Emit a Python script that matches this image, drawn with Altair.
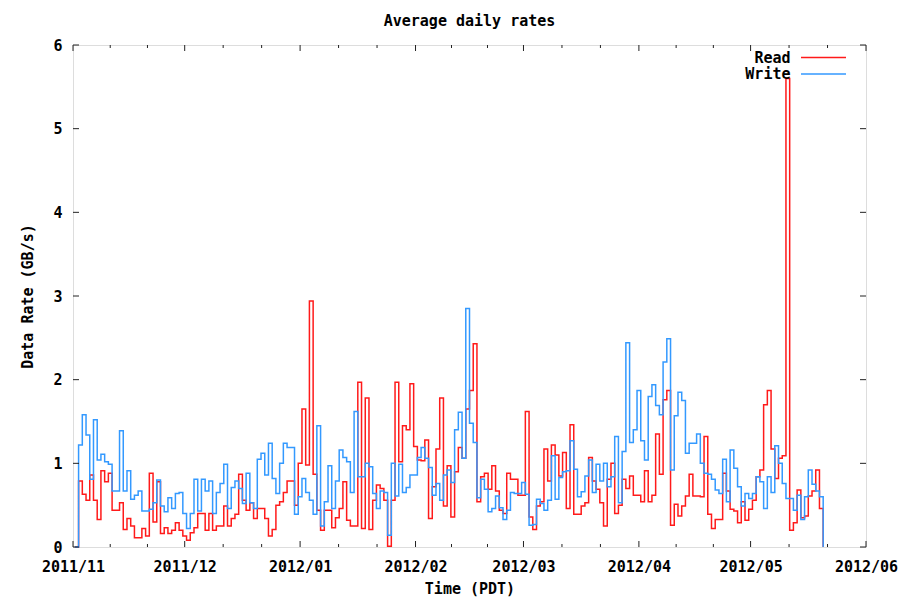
import altair as alt
import pandas as pd

# Daily average rates (GB/s), one value per day starting 2011-11-01
read_rate = [
    0.00, 0.79, 0.63, 0.56, 0.86, 0.56, 0.33, 0.91, 0.78, 0.88,
    0.44, 0.44, 0.53, 0.21, 0.34, 0.25, 0.11, 0.11, 0.22, 0.13,
    0.88, 0.30, 0.78, 0.16, 0.23, 0.16, 0.20, 0.29, 0.20, 0.13,
    0.08, 0.17, 0.23, 0.40, 0.40, 0.20, 0.40, 0.20, 0.25, 0.25,
    0.49, 0.25, 0.34, 0.39, 0.87, 0.56, 0.44, 0.53, 0.34, 0.46,
    0.46, 0.34, 0.13, 0.21, 0.50, 0.54, 0.65, 0.79, 0.79, 0.50,
    1.00, 1.65, 0.98, 2.94, 0.87, 0.44, 0.20, 0.44, 0.44, 0.23,
    0.35, 0.46, 0.78, 0.32, 0.25, 0.25, 1.97, 0.22, 1.78, 0.21,
    0.56, 0.74, 0.70, 0.56, 0.01, 0.56, 1.97, 1.02, 1.45, 1.40,
    1.95, 1.20, 1.04, 1.03, 1.28, 0.34, 0.72, 1.17, 1.78, 0.49,
    0.97, 0.36, 0.90, 1.19, 1.06, 1.65, 1.87, 2.43, 0.54, 0.84,
    0.88, 0.69, 0.97, 0.67, 0.44, 0.40, 0.88, 0.81, 0.81, 0.62,
    0.62, 1.62, 0.36, 0.21, 0.49, 0.54, 1.17, 0.79, 1.22, 1.10,
    0.85, 1.13, 0.46, 1.46, 0.39, 0.39, 0.49, 0.53, 1.07, 0.79,
    0.69, 0.53, 0.25, 0.81, 1.00, 0.40, 0.50, 0.81, 0.70, 0.85,
    0.62, 0.62, 0.54, 0.91, 0.54, 0.62, 1.35, 0.87, 1.76, 1.87,
    0.26, 0.51, 0.37, 0.49, 0.61, 0.87, 0.61, 0.61, 0.60, 1.32,
    0.39, 0.22, 0.33, 0.33, 0.88, 0.67, 0.45, 0.43, 0.29, 0.54,
    0.32, 0.45, 0.56, 0.84, 0.92, 1.70, 1.87, 1.17, 0.82, 1.06,
    1.09, 5.60, 0.20, 0.29, 0.68, 0.35, 0.37, 0.61, 0.67, 0.92,
    0.46, 0.00,
]

write_rate = [
    0.00, 1.22, 1.58, 1.34, 0.81, 1.52, 1.04, 1.11, 1.02, 0.99,
    0.67, 0.67, 1.39, 0.67, 0.91, 0.57, 0.62, 0.67, 0.43, 0.43,
    0.45, 0.53, 0.80, 0.49, 0.42, 0.59, 0.46, 0.64, 0.65, 0.40,
    0.22, 0.40, 0.81, 0.43, 0.81, 0.67, 0.79, 0.40, 0.65, 0.76,
    0.99, 0.46, 0.71, 0.79, 0.70, 0.52, 0.88, 0.53, 0.46, 1.05,
    1.12, 0.86, 1.24, 0.82, 0.64, 1.00, 1.24, 1.19, 1.19, 0.39,
    0.60, 0.82, 0.65, 0.56, 0.39, 1.45, 0.25, 0.54, 0.97, 0.46,
    0.79, 1.16, 1.07, 1.02, 0.65, 1.62, 0.84, 0.84, 1.00, 0.96,
    0.64, 0.46, 0.67, 0.65, 0.14, 1.00, 0.61, 0.99, 0.65, 0.71,
    0.86, 0.86, 1.07, 1.19, 1.06, 0.95, 0.62, 0.76, 0.56, 0.86,
    0.92, 0.77, 1.40, 1.61, 1.06, 2.85, 1.48, 1.25, 0.59, 0.81,
    0.69, 0.42, 0.46, 0.61, 0.47, 0.33, 0.44, 0.65, 0.64, 0.64,
    0.77, 0.63, 0.26, 0.27, 0.57, 0.52, 0.44, 0.56, 1.09, 0.57,
    0.83, 0.90, 0.91, 1.27, 0.93, 0.60, 0.66, 0.85, 1.04, 0.65,
    0.99, 0.79, 1.00, 0.72, 0.84, 1.32, 0.53, 1.14, 2.44, 1.25,
    1.40, 1.87, 1.27, 1.04, 1.80, 1.94, 1.69, 1.58, 2.21, 2.49,
    0.92, 1.57, 1.85, 1.75, 1.12, 1.24, 1.24, 1.35, 1.00, 0.88,
    0.87, 0.81, 0.68, 0.64, 1.05, 0.54, 1.16, 0.94, 0.72, 0.49,
    0.64, 0.58, 0.64, 0.84, 0.78, 0.46, 0.84, 0.65, 1.21, 1.00,
    0.76, 0.58, 0.58, 0.44, 0.62, 0.33, 0.60, 0.92, 0.75, 0.67,
    0.60, 0.00,
]

month_starts = ["2011-11-01", "2011-12-01", "2012-01-01", "2012-02-01",
                "2012-03-01", "2012-04-01", "2012-05-01", "2012-06-01"]
y_ticks = [0, 1, 2, 3, 4, 5, 6]
series_names = ["Read", "Write"]
series_colors = ["#ff1a1a", "#3399ff"]

FONT = "DejaVu Sans Mono"
FS = 15
W, H = 793, 502
ISO = "%Y-%m-%dT%H:%M:%SZ"

# long table of the two daily series (values sit at midday)
n = len(read_rate)
stamps = list(pd.date_range("2011-11-01 12:00", periods=n, freq="D", tz="UTC").strftime(ISO))
rates = pd.DataFrame({
    "time": stamps * 2,
    "rate": read_rate + write_rate,
    "series": [series_names[0]] * n + [series_names[1]] * n,
})

# major ticks on month starts, minor ticks splitting each month in three
starts = pd.to_datetime(month_starts).tz_localize("UTC")
major = pd.DataFrame({"time": starts.strftime(ISO)})
minor_t = []
for a, b in zip(starts[:-1], starts[1:]):
    minor_t += [a + (b - a) / 3, a + 2 * (b - a) / 3]
minor = pd.DataFrame({"time": [m.strftime(ISO) for m in minor_t]})
yt = pd.DataFrame({"rate": y_ticks})


def dt(s):
    y, m, d = map(int, s.split("-"))
    return alt.DateTime(year=y, month=m, date=d, utc=True)


x_scale = alt.Scale(type="utc", domain=[dt(month_starts[0]), dt(month_starts[-1])], nice=False)
y_scale = alt.Scale(domain=[0, 6], nice=False, zero=True)

x_axis = alt.Axis(
    values=[dt(m) for m in month_starts], format="%Y/%m",
    ticks=False, tickSize=0, domain=False, grid=False,
    labelFlush=False, labelOverlap=False, labelPadding=12,
    labelFont=FONT, labelFontSize=FS, labelFontWeight="bold", labelColor="black",
    title="Time (PDT)", titleFont=FONT, titleFontSize=FS, titleFontWeight="bold",
    titleColor="black", titleY=41, titleBaseline="middle",
)
y_axis = alt.Axis(
    values=y_ticks, format="d",
    ticks=False, tickSize=0, domain=False, grid=False,
    labelFlush=False, labelOverlap=False, labelPadding=11,
    labelFont=FONT, labelFontSize=FS, labelFontWeight="bold", labelColor="black",
    title="Data Rate (GB/s)", titleFont=FONT, titleFontSize=FS, titleFontWeight="bold",
    titleColor="black", titleX=-46, titleY=H / 2, titleAngle=270,
    titleBaseline="middle", titleAlign="center",
)

X = alt.X("time:T", scale=x_scale, axis=x_axis, title="Time (PDT)")
Y = alt.Y("rate:Q", scale=y_scale, axis=y_axis, title="Data Rate (GB/s)")

lines = alt.Chart(rates).mark_line(
    interpolate="step-after", strokeWidth=1.5, strokeJoin="miter", strokeCap="butt"
).encode(
    x=X, y=Y,
    color=alt.Color("series:N", scale=alt.Scale(domain=series_names, range=series_colors), legend=None),
    order=alt.Order("time:T"),
)

TICK = "#222222"


def xticks(df, y0, y1):
    return alt.Chart(df).mark_rule(color=TICK, strokeWidth=1).encode(
        x=X, y=alt.value(y0), y2=alt.value(y1))


def yticks(x0, x1):
    return alt.Chart(yt).mark_rule(color=TICK, strokeWidth=1).encode(
        y=Y, x=alt.value(x0), x2=alt.value(x1))


ticks = [
    xticks(major, H, H - 6), xticks(major, 0, 6),
    xticks(minor, H, H - 3), xticks(minor, 0, 3),
    yticks(0, 6), yticks(W, W - 6),
]

# key in the upper right corner: label, then a line sample
key_layers = []
for i, (name, col) in enumerate(zip(series_names, series_colors)):
    row = pd.DataFrame({"series": [name]})
    ky = 12.5 + 16.5 * i
    key_layers.append(alt.Chart(row).mark_text(
        align="right", baseline="middle", font=FONT, fontSize=FS, fontWeight="bold", color="black"
    ).encode(text="series:N", x=alt.value(717.5), y=alt.value(ky)))
    key_layers.append(alt.Chart(row).mark_rule(color=col, strokeWidth=1.5).encode(
        x=alt.value(728), x2=alt.value(773), y=alt.value(ky)))

chart = alt.layer(lines, *ticks, *key_layers).properties(
    width=W, height=H,
    title=alt.TitleParams(
        "Average daily rates", font=FONT, fontSize=FS, fontWeight="bold", color="black",
        anchor="middle", frame="group", baseline="middle", offset=2,
    ),
    autosize=alt.AutoSizeParams(type="none"),
    padding={"left": 73, "top": 45, "right": 46, "bottom": 59},
).configure_view(stroke="#333333", strokeWidth=1).configure(background="white")

chart.save("out.html", embed_options={"renderer": "svg", "actions": False})
